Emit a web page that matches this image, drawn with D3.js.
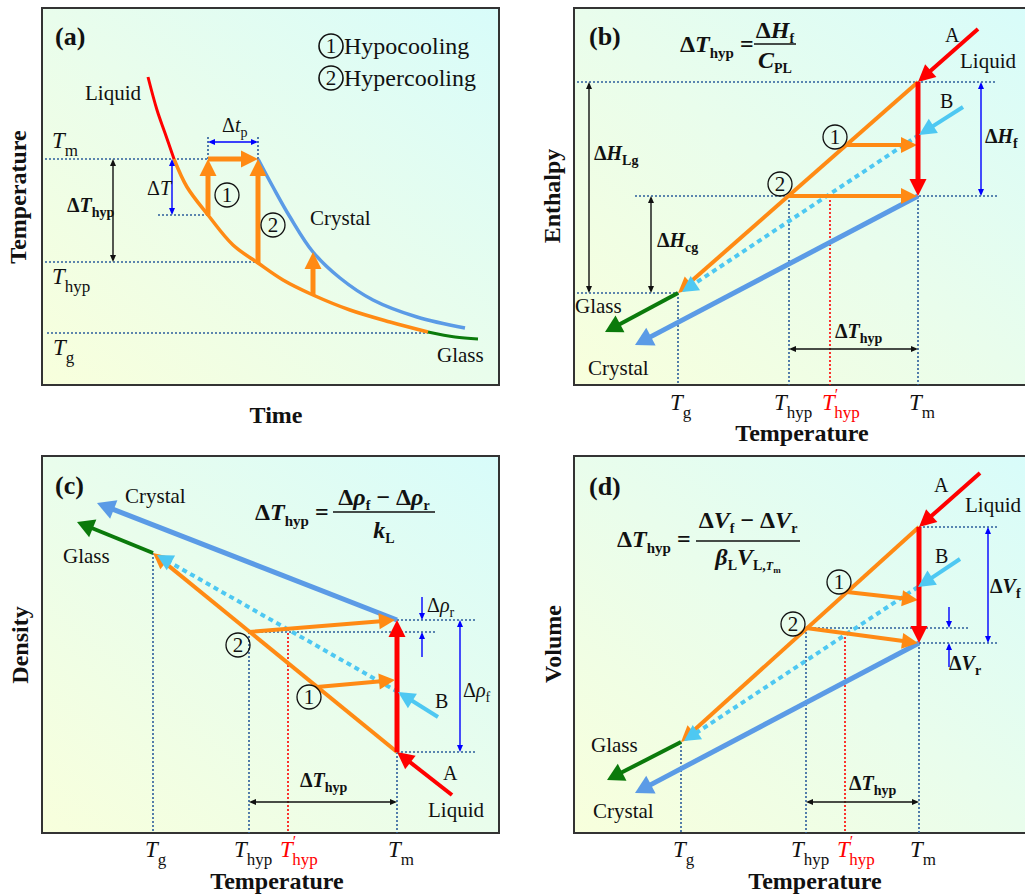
<!DOCTYPE html>
<html>
<head>
<meta charset="UTF-8">
<title>Hypocooling / hypercooling schematic</title>
<script src="https://d3js.org/d3.v7.min.js"></script>
<style>
  body { margin: 0; background: #fff; }
  text { font-family: "Liberation Serif", "Times New Roman", serif; fill: #111; }
</style>
</head>
<body>
<div id="chart"></div>
<script>
// every value below is in arbitrary units (1 unit ~ 10 px of a frame)

// (a) temperature vs time
const aLiquid = [[10.6, 30.8], [11.5, 27.5], [12.3, 25.2], [13.2, 22.6]];
const aSupercooled = [[13.2, 22.6], [14.5, 19.8], [16.6, 17.0], [19.1, 14.0], [21.6, 12.2], [24.1, 10.5], [27.1, 9.0], [30.8, 7.5], [34.8, 6.3], [38.6, 5.3]];
const aGlass = [[38.6, 5.3], [41.3, 4.8], [43.6, 4.6]];
const aCrystal = [[21.6, 22.6], [23.1, 19.8], [24.8, 16.8], [27.1, 13.3], [29.8, 10.7], [33.1, 8.5], [37.5, 6.8], [42.3, 5.7]];
const aLevels = [22.6, 17.0, 12.3, 5.2];           // Tm, Tm-dT, Thyp, Tg
const aRecalescence = [[16.6, 17.0, 22.6], [21.6, 12.2, 22.6], [27.1, 9.0, 13.3]]; // time, from, to
const aMarks = [[18.5, 19.0], [23.1, 16.0]];

// (b) enthalpy vs temperature
const bTemps = [10.4, 21.5, 25.6, 34.4];           // Tg, Thyp, T'hyp, Tm
const bLevels = [30.3, 18.9, 9.2, 24.0];           // liquid(Tm), crystal(Tm), glass(Tg), path 1
const bA = [[40.4, 35.6], [34.4, 30.3]];
const bB = [[38.9, 27.8], [34.5, 25.0]];
const bBpath = [[34.5, 25.0], [10.8, 9.3]];
const bCrystal = [[34.4, 18.9], [6.1, 4.0]];
const bGlass = [[10.4, 9.2], [3.1, 5.3]];
const bRecal = [[[27.2, 24.0], [34.3, 24.0]], [[21.5, 18.9], [34.3, 18.9]]];
const bMarks = [[26.1, 24.8], [20.6, 20.1]];

// (c) density vs temperature
const cTemps = [11.1, 20.7, 24.6, 35.5];
const cLevels = [8.1, 21.3, 28.0, 20.1];           // liquid(Tm), crystal(Tm), glass(Tg), path 2
const cA = [[41.0, 3.8], [35.5, 8.1]];
const cB = [[39.6, 11.6], [35.6, 14.1]];
const cBpath = [[35.6, 14.1], [11.5, 27.8]];
const cCrystal = [[35.5, 21.3], [5.5, 33.0]];
const cGlass = [[11.1, 28.0], [3.5, 31.1]];
const cRecal = [[[27.5, 14.6], [35.3, 15.3]], [[20.7, 20.1], [35.3, 21.3]]];
const cMarks = [[26.7, 13.6], [19.6, 18.8]];
const cThypPrimeTop = 20.4;

// (d) volume vs temperature
const dTemps = [10.7, 23.2, 27.1, 34.5];
const dLevels = [30.6, 19.0, 9.1, 20.5];
const dA = [[40.6, 36.0], [34.5, 30.6]];
const dB = [[38.6, 27.4], [34.4, 24.6]];
const dBpath = [[34.4, 24.6], [11.0, 9.2]];
const dCrystal = [[34.5, 19.0], [6.1, 4.0]];
const dGlass = [[10.7, 9.1], [3.3, 5.3]];
const dRecal = [[[27.3, 24.1], [34.4, 23.3]], [[23.2, 20.5], [34.4, 19.0]]];
const dMarks = [[26.5, 25.1], [21.9, 20.9]];
const dThypPrimeTop = 20.0;

const C = { red: "#ff0000", orange: "#ff8a14", crystal: "#5b9be6", cyan: "#4ec8f2",
            green: "#0b7a0b", dot: "#2c5d9c", blue: "#0000ff", black: "#111" };
const BIG = { hl: 17, hw: 17, w: 5 };
const MID = { hl: 16, hw: 16, w: 4 };
const THIN = { hl: 7, hw: 6, w: 1.4 };

const svg = d3.select("#chart").append("svg").attr("width", 1025).attr("height", 894);
const grad = svg.append("defs").append("linearGradient").attr("id", "bg")
  .attr("x1", 0).attr("y1", 1).attr("x2", 1).attr("y2", 0);
grad.append("stop").attr("offset", "0%").attr("stop-color", "#f8ffdc");
grad.append("stop").attr("offset", "50%").attr("stop-color", "#e9fdec");
grad.append("stop").attr("offset", "100%").attr("stop-color", "#d8fcfa");

const PW = 457, PH = 377;
function makePanel(x0, y0) {
  const g = svg.append("g");
  const x = d3.scaleLinear().domain([0, 45.7]).range([x0, x0 + PW]);
  const y = d3.scaleLinear().domain([0, 37.7]).range([y0 + PH, y0]);
  g.append("rect").attr("x", x0).attr("y", y0).attr("width", PW).attr("height", PH)
    .attr("fill", "url(#bg)").attr("stroke", "#333").attr("stroke-width", 2);
  return { g, x, y };
}

function seg(P, a, b, color, w, dash) {
  P.g.append("line").attr("x1", P.x(a[0])).attr("y1", P.y(a[1]))
    .attr("x2", P.x(b[0])).attr("y2", P.y(b[1]))
    .attr("stroke", color).attr("stroke-width", w).attr("stroke-dasharray", dash || null);
}
function dotted(P, a, b, color) { seg(P, a, b, color || C.dot, 1.6, "2,2"); }

function head(g, x, y, ux, uy, o, color) {
  const bx = x - ux * o.hl, by = y - uy * o.hl, h = o.hw / 2;
  g.append("polygon")
    .attr("points", [[x, y], [bx - uy * h, by + ux * h], [bx + uy * h, by - ux * h]].map(p => p.join(",")).join(" "))
    .attr("fill", color);
}
function arrow(P, a, b, o, color, both, dash) {
  const x1 = P.x(a[0]), y1 = P.y(a[1]), x2 = P.x(b[0]), y2 = P.y(b[1]);
  const L = Math.hypot(x2 - x1, y2 - y1), ux = (x2 - x1) / L, uy = (y2 - y1) / L;
  const cut = o.hl * 0.7;
  P.g.append("line")
    .attr("x1", both ? x1 + ux * cut : x1).attr("y1", both ? y1 + uy * cut : y1)
    .attr("x2", x2 - ux * cut).attr("y2", y2 - uy * cut)
    .attr("stroke", color).attr("stroke-width", o.w).attr("stroke-dasharray", dash || null);
  head(P.g, x2, y2, ux, uy, o, color);
  if (both) head(P.g, x1, y1, -ux, -uy, o, color);
}
function curve(P, pts, color, w) {
  const line = d3.line().x(d => P.x(d[0])).y(d => P.y(d[1])).curve(d3.curveCatmullRom.alpha(0.5));
  P.g.append("path").attr("d", line(pts)).attr("fill", "none").attr("stroke", color).attr("stroke-width", w);
}

// text with italic / sub / sup pieces
function rich(g, x, y, parts, base) {
  const t = g.append("text").attr("x", x).attr("y", y).attr("font-size", base.size)
    .attr("font-weight", base.bold ? "bold" : "normal")
    .attr("text-anchor", base.anchor || "start")
    .style("fill", base.color || "#111");
  let shift = 0;
  parts.forEach(p => {
    const o = p[1] || {};
    const s = t.append("tspan").text(p[0]);
    if (o.i) s.attr("font-style", "italic");
    if (o.fs) s.attr("font-size", o.fs);
    const want = o.dy || 0;
    if (want !== shift) { s.attr("dy", want - shift); shift = want; }
    if (o.dx) s.attr("dx", o.dx);
  });
  return t;
}
function label(g, x, y, s, size, bold) {
  g.append("text").attr("x", x).attr("y", y).attr("font-size", size || 21)
    .attr("font-weight", bold ? "bold" : "normal").text(s);
}
function circled(P, p, n) {
  const cx = P.x(p[0]), cy = P.y(p[1]);
  P.g.append("circle").attr("cx", cx).attr("cy", cy).attr("r", 12)
    .attr("fill", "none").attr("stroke", "#111").attr("stroke-width", 1.3);
  P.g.append("text").attr("x", cx).attr("y", cy + 7).attr("text-anchor", "middle").attr("font-size", 21).text(n);
}
function deltaBold(g, x, y, letter, sub, size) {
  rich(g, x, y, [["Δ"], [letter, { i: 1 }], [sub, { fs: 14, dy: 5 }]], { size: size || 20, bold: true });
}
function tVar(g, x, y, sub, color, prime) {
  const parts = [["T", { i: 1 }]];
  if (prime) { parts.push(["′", { fs: 16, dy: -10 }]); parts.push([sub, { fs: 17, dy: 8, dx: -4 }]); }
  else parts.push([sub, { fs: 17, dy: 8 }]);
  rich(g, x, y, parts, { size: 23, color });
}
function ticks(P, temps, base) {
  const offs = [-8, -15, -8, -9];
  const subs = ["g", "hyp", "hyp", "m"];
  temps.forEach((T, i) => tVar(P.g, P.x(T) + offs[i], base, subs[i], i === 2 ? C.red : "#111", i === 2));
}
function axisTitle(x, y, s, rotate) {
  svg.append("text").attr("transform", `translate(${x},${y})` + (rotate ? " rotate(-90)" : ""))
    .attr("text-anchor", "middle").attr("font-size", 24).attr("font-weight", "bold").text(s);
}
function fraction(g, cx, lineY, half, num, den, numBase, denBase) {
  g.append("line").attr("x1", cx - half).attr("x2", cx + half).attr("y1", lineY).attr("y2", lineY)
    .attr("stroke", "#111").attr("stroke-width", 1.6);
  rich(g, cx, numBase, num, { size: 24, bold: true, anchor: "middle" });
  rich(g, cx, denBase, den, { size: 24, bold: true, anchor: "middle" });
}
const SUB = { fs: 14, dy: 5 };

// ---------------- panel (a)
const pa = makePanel(42, 8);
[[0.3, 21.6, aLevels[0]], [11.6, 16.6, aLevels[1]], [0.3, 21.5, aLevels[2]], [0.5, 38.6, aLevels[3]]]
  .forEach(d => dotted(pa, [d[0], d[2]], [d[1], d[2]]));
[aRecalescence[0][0], aRecalescence[1][0]].forEach(t => dotted(pa, [t, aLevels[0]], [t, 25.0]));
curve(pa, aCrystal, C.crystal, 3.5);
curve(pa, aSupercooled, C.orange, 3.5);
curve(pa, aLiquid, C.red, 3);
curve(pa, aGlass, C.green, 3);
aRecalescence.forEach(r => arrow(pa, [r[0], r[1]], [r[0], r[2]], BIG, C.orange));
arrow(pa, [aRecalescence[0][0], aLevels[0]], [aRecalescence[1][0], aLevels[0]], BIG, C.orange);
arrow(pa, [aRecalescence[0][0], 24.3], [aRecalescence[1][0], 24.3], THIN, C.blue, true);
arrow(pa, [13.0, aLevels[0]], [13.0, aLevels[1]], THIN, C.blue, true);
arrow(pa, [7.1, aLevels[0]], [7.1, aLevels[2]], THIN, C.black, true);
aMarks.forEach((m, i) => circled(pa, m, String(i + 1)));
label(pa.g, 55, 45, "(a)", 26, true);
[["1", "Hypocooling", 46], ["2", "Hypercooling", 78]].forEach(d => {
  pa.g.append("circle").attr("cx", 331).attr("cy", d[2]).attr("r", 12).attr("fill", "none").attr("stroke", "#111").attr("stroke-width", 1.6);
  pa.g.append("text").attr("x", 331).attr("y", d[2] + 7).attr("text-anchor", "middle").attr("font-size", 21).text(d[0]);
  label(pa.g, 344, d[2] + 8, d[1], 24);
});
label(pa.g, 85, 100, "Liquid");
label(pa.g, 310, 225, "Crystal");
label(pa.g, 437, 362, "Glass");
tVar(pa.g, 52, 148, "m");
tVar(pa.g, 52, 284, "hyp");
tVar(pa.g, 53, 355, "g");
deltaBold(pa.g, 67, 212, "T", "hyp");
rich(pa.g, 147, 195, [["Δ"], ["T", { i: 1 }]], { size: 20 });
rich(pa.g, 222, 132, [["Δ"], ["t", { i: 1 }], ["p", SUB]], { size: 20 });
axisTitle(26, 197, "Temperature", true);
axisTitle(276, 423, "Time");

// ---------------- panel (b)
const pb = makePanel(574, 8);
const [bTg, bTh, bTh2, bTm] = bTemps;
dotted(pb, [0.3, bLevels[0]], [42.3, bLevels[0]]);
dotted(pb, [6.1, bLevels[1]], [42.3, bLevels[1]]);
dotted(pb, [0.3, bLevels[2]], [bTg, bLevels[2]]);
dotted(pb, [bTg, bLevels[2]], [bTg, 0]);
dotted(pb, [bTh, bLevels[1]], [bTh, 0]);
dotted(pb, [bTh2, bLevels[1]], [bTh2, 0], C.red);
dotted(pb, [bTm, bLevels[1]], [bTm, 0]);
arrow(pb, bCrystal[0], bCrystal[1], { hl: 18, hw: 20, w: 5 }, C.crystal);
arrow(pb, bGlass[0], bGlass[1], { hl: 17, hw: 19, w: 4 }, C.green);
arrow(pb, [bTm, bLevels[0]], [bTg, bLevels[2]], MID, C.orange);
arrow(pb, bBpath[0], bBpath[1], { hl: 16, hw: 17, w: 4 }, C.cyan, false, "5,4");
bRecal.forEach(r => arrow(pb, r[0], r[1], MID, C.orange));
arrow(pb, [bTm, bLevels[0]], [bTm, bLevels[1]], BIG, C.red);
arrow(pb, bA[0], bA[1], { hl: 17, hw: 17, w: 4 }, C.red);
arrow(pb, bB[0], bB[1], { hl: 17, hw: 17, w: 4 }, C.cyan);
arrow(pb, [1.5, bLevels[0]], [1.5, bLevels[2]], THIN, C.black, true);
arrow(pb, [7.7, bLevels[1]], [7.7, bLevels[2]], THIN, C.black, true);
arrow(pb, [40.7, bLevels[0]], [40.7, bLevels[1]], THIN, C.blue, true);
arrow(pb, [bTh, 3.6], [bTm, 3.6], THIN, C.black, true);
bMarks.forEach((m, i) => circled(pb, m, String(i + 1)));
label(pb.g, 589, 45, "(b)", 26, true);
rich(pb.g, 680, 52, [["Δ"], ["T", { i: 1 }], ["hyp", { fs: 15, dy: 6 }], [" = ", { dy: 0 }]], { size: 24, bold: true });
fraction(pb.g, 775, 44, 21, [["Δ"], ["H", { i: 1 }], ["f", SUB]], [["C", { i: 1 }], ["PL", SUB]], 38, 68);
label(pb.g, 945, 42, "A", 20);
label(pb.g, 960, 68, "Liquid");
label(pb.g, 940, 108, "B", 20);
deltaBold(pb.g, 985, 143, "H", "f");
deltaBold(pb.g, 594, 160, "H", "Lg");
deltaBold(pb.g, 657, 247, "H", "cg");
deltaBold(pb.g, 835, 338, "T", "hyp");
label(pb.g, 575, 313, "Glass");
label(pb.g, 588, 375, "Crystal");
ticks(pb, bTemps, 410);
axisTitle(802, 441, "Temperature");
axisTitle(560, 196, "Enthalpy", true);

// ---------------- panel (c)
const pc = makePanel(42, 456);
const [cTg, cTh, cTh2, cTm] = cTemps;
dotted(pc, [cTm, cLevels[1]], [43.3, cLevels[1]]);
dotted(pc, [cTh, cLevels[3]], [39.5, cLevels[3]]);
dotted(pc, [cTm, cLevels[0]], [43.3, cLevels[0]]);
dotted(pc, [cTg, cLevels[2]], [cTg, 0]);
dotted(pc, [cTh, cLevels[3]], [cTh, 0]);
dotted(pc, [cTh2, cThypPrimeTop], [cTh2, 0], C.red);
dotted(pc, [cTm, cLevels[0]], [cTm, 0]);
arrow(pc, cCrystal[0], cCrystal[1], { hl: 18, hw: 20, w: 5 }, C.crystal);
arrow(pc, cGlass[0], cGlass[1], { hl: 17, hw: 19, w: 4 }, C.green);
arrow(pc, [cTm, cLevels[0]], [cTg, cLevels[2]], MID, C.orange);
arrow(pc, cBpath[0], cBpath[1], { hl: 16, hw: 17, w: 4 }, C.cyan, false, "5,4");
arrow(pc, [cTm, cLevels[0]], [cTm, cLevels[1]], BIG, C.red);
cRecal.forEach(r => arrow(pc, r[0], r[1], MID, C.orange));
arrow(pc, cA[0], cA[1], { hl: 17, hw: 17, w: 4 }, C.red);
arrow(pc, cB[0], cB[1], { hl: 17, hw: 17, w: 4 }, C.cyan);
arrow(pc, [38.0, 23.6], [38.0, cLevels[1]], THIN, C.blue);
arrow(pc, [38.0, 17.6], [38.0, cLevels[3]], THIN, C.blue);
arrow(pc, [41.8, cLevels[1]], [41.8, cLevels[0]], THIN, C.blue, true);
arrow(pc, [cTh, 3.1], [cTm, 3.1], THIN, C.black, true);
cMarks.forEach((m, i) => circled(pc, m, String(i + 1)));
label(pc.g, 55, 494, "(c)", 26, true);
label(pc.g, 125, 503, "Crystal");
label(pc.g, 63, 563, "Glass");
rich(pc.g, 255, 520, [["Δ"], ["T", { i: 1 }], ["hyp", { fs: 15, dy: 6 }], [" = ", { dy: 0 }]], { size: 24, bold: true });
fraction(pc.g, 384, 512, 51,
  [["Δ"], ["ρ", { i: 1 }], ["f", SUB], [" − ", { dy: 0 }], ["Δ"], ["ρ", { i: 1 }], ["r", SUB]],
  [["k", { i: 1 }], ["L", SUB]], 505, 538);
rich(pc.g, 427, 612, [["Δ"], ["ρ", { i: 1 }], ["r", { fs: 14, dy: 5 }]], { size: 20 });
rich(pc.g, 463, 697, [["Δ"], ["ρ", { i: 1 }], ["f", { fs: 14, dy: 5 }]], { size: 20 });
label(pc.g, 435, 708, "B", 20);
label(pc.g, 443, 780, "A", 20);
label(pc.g, 428, 817, "Liquid");
deltaBold(pc.g, 300, 787, "T", "hyp");
ticks(pc, cTemps, 857);
axisTitle(277, 889, "Temperature");
axisTitle(28, 645, "Density", true);

// ---------------- panel (d)
const pd = makePanel(574, 456);
const [dTg, dTh, dTh2, dTm] = dTemps;
dotted(pd, [dTm, dLevels[0]], [42.3, dLevels[0]]);
dotted(pd, [dTm, dLevels[1]], [42.3, dLevels[1]]);
dotted(pd, [dTh, dLevels[3]], [39.5, dLevels[3]]);
dotted(pd, [dTg, dLevels[2]], [dTg, 0]);
dotted(pd, [dTh, dLevels[3]], [dTh, 0]);
dotted(pd, [dTh2, dThypPrimeTop], [dTh2, 0], C.red);
dotted(pd, [dTm, dLevels[1]], [dTm, 0]);
arrow(pd, dCrystal[0], dCrystal[1], { hl: 18, hw: 20, w: 5 }, C.crystal);
arrow(pd, dGlass[0], dGlass[1], { hl: 17, hw: 19, w: 4 }, C.green);
arrow(pd, [dTm, dLevels[0]], [dTg, dLevels[2]], MID, C.orange);
arrow(pd, dBpath[0], dBpath[1], { hl: 16, hw: 17, w: 4 }, C.cyan, false, "5,4");
dRecal.forEach(r => arrow(pd, r[0], r[1], MID, C.orange));
arrow(pd, [dTm, dLevels[0]], [dTm, dLevels[1]], BIG, C.red);
arrow(pd, dA[0], dA[1], { hl: 17, hw: 17, w: 4 }, C.red);
arrow(pd, dB[0], dB[1], { hl: 17, hw: 17, w: 4 }, C.cyan);
arrow(pd, [41.4, dLevels[0]], [41.4, dLevels[1]], THIN, C.blue, true);
arrow(pd, [37.5, 22.6], [37.5, dLevels[3]], THIN, C.blue);
arrow(pd, [37.5, 16.6], [37.5, dLevels[1]], THIN, C.blue);
arrow(pd, [dTh, 3.1], [dTm, 3.1], THIN, C.black, true);
dMarks.forEach((m, i) => circled(pd, m, String(i + 1)));
label(pd.g, 589, 495, "(d)", 26, true);
label(pd.g, 934, 492, "A", 20);
label(pd.g, 965, 512, "Liquid");
label(pd.g, 935, 563, "B", 20);
deltaBold(pd.g, 990, 593, "V", "f");
deltaBold(pd.g, 949, 670, "V", "r");
rich(pd.g, 617, 547, [["Δ"], ["T", { i: 1 }], ["hyp", { fs: 15, dy: 6 }], [" = ", { dy: 0 }]], { size: 24, bold: true });
fraction(pd.g, 748, 541, 52,
  [["Δ"], ["V", { i: 1 }], ["f", SUB], [" − ", { dy: 0 }], ["Δ"], ["V", { i: 1 }], ["r", SUB]],
  [["β", { i: 1 }], ["L", SUB], ["V", { i: 1, dy: 0 }], ["L,", SUB], ["T", { i: 1, fs: 12, dy: 5 }], ["m", { fs: 9, dy: 8 }]],
  528, 565);
label(pd.g, 591, 752, "Glass");
label(pd.g, 593, 818, "Crystal");
deltaBold(pd.g, 849, 790, "T", "hyp");
ticks(pd, dTemps, 857);
axisTitle(815, 889, "Temperature");
axisTitle(561, 644, "Volume", true);
</script>
</body>
</html>
